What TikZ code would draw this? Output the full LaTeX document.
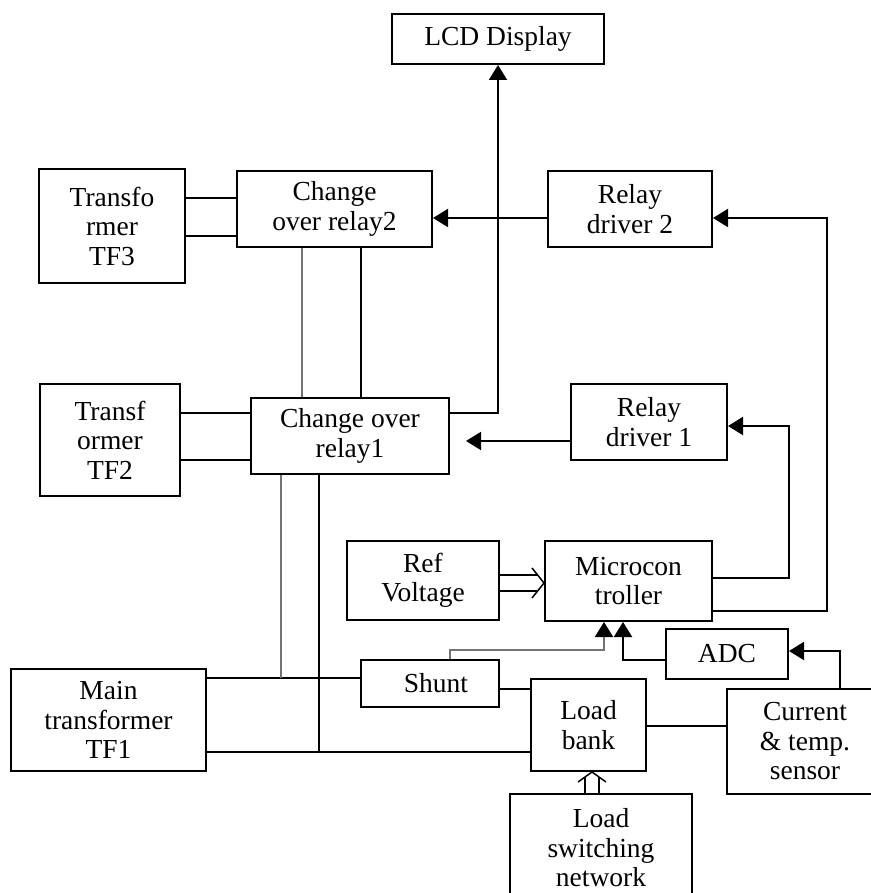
\documentclass[tikz,border=0pt]{standalone}
\usepackage{fontspec}
\setmainfont{Liberation Serif}
\usetikzlibrary{arrows.meta}

\begin{document}
\begin{tikzpicture}[x=1pt, y=-1pt, line width=2pt,
        blk/.style={draw, rectangle, align=center, inner sep=0pt, font=\fontsize{27.5}{29.5}\selectfont},
        arr/.style={-{Triangle[length=15pt, width=18pt, color=black]}},
        hol/.style={double, line width=1.5pt},
        gw/.style={draw=black!55}]
        \useasboundingbox (0,0) rectangle (870,893);
        % Blocks, top part
        \node[blk, minimum width=212pt, minimum height=50pt] (lcd) at (498,39) {LCD Display};
        \node[blk, minimum width=146pt, minimum height=114pt] (tf3) at (112,226) {Transfo\\rmer\\TF3};
        \node[blk, minimum width=195pt, minimum height=76pt] (cor2) at (334.5,209) {Change\\over relay2};
        \node[blk, minimum width=164pt, minimum height=76pt] (rd2) at (630,209) {Relay\\driver 2};
        \node[blk, minimum width=140pt, minimum height=112pt] (tf2) at (110,440) {Transf\\ormer\\TF2};
        \node[blk, minimum width=198pt, minimum height=76pt] (cor1) at (350,436) {Change over\\relay1};
        \node[blk, minimum width=156pt, minimum height=76pt] (rd1) at (649,422) {Relay\\driver 1};
        % Blocks, bottom part
        \node[blk, minimum width=152pt, minimum height=79pt] (refv) at (423,580.5) {Ref\\Voltage};
        \node[blk, minimum width=167pt, minimum height=80pt] (mcu) at (628.5,581) {Microcon\\troller};
        \node[blk, minimum width=122pt, minimum height=50pt] (adc) at (727,654) {ADC};
        \node[blk, minimum width=138pt, minimum height=47pt] (shunt) at (430,683.5) {\hspace*{12pt}Shunt};
        \node[blk, minimum width=115pt, minimum height=92pt] (lbank) at (588.5,725) {Load\\bank};
        \node[blk, minimum width=195pt, minimum height=102pt] (tf1) at (108.5,720) {Main\\transformer\\TF1};
        \node[blk, minimum width=156pt, minimum height=105pt] (sensor) at (805,741.5) {Current\\\& temp.\\sensor};
        \node[blk, minimum width=182pt, minimum height=108pt] (lsn) at (601,848) {Load\\switching\\network};
        % Transformer to relay wiring
        \draw ([yshift=11pt]cor2.west) -- ([yshift=11pt]cor2.west -| tf3.east);
        \draw ([yshift=-27pt]cor2.west) -- ([yshift=-27pt]cor2.west -| tf3.east);
        \draw ([yshift=23pt]cor1.west) -- ([yshift=23pt]cor1.west -| tf2.east);
        \draw ([yshift=-24pt]cor1.west) -- ([yshift=-24pt]cor1.west -| tf2.east);
        \draw[gw] ([xshift=-32.5pt]cor2.south) -- ([xshift=-32.5pt]cor2.south |- cor1.north);
        \draw ([xshift=26.5pt]cor2.south) -- ([xshift=26.5pt]cor2.south |- cor1.north);
        % Main transformer bus
        \coordinate (bt) at ([yshift=5.5pt]shunt.west);
        \coordinate (bb) at ([yshift=-32pt]tf1.east);
        \draw (bt) -- (bt -| tf1.east);
        \draw (bb) -- (bb -| lbank.west);
        \draw[gw] ([xshift=-69pt]cor1.south) -- ([xshift=-69pt]cor1.south |- bt);
        \draw ([xshift=-31pt]cor1.south) -- ([xshift=-31pt]cor1.south |- bb);
        \draw ([yshift=-5.5pt]shunt.east) -- ([yshift=-5.5pt]shunt.east -| lbank.west);
        \draw ([yshift=-1pt]lbank.east) -- ([yshift=-1pt]lbank.east -| sensor.west);
        % Control signals
        \draw[arr] ([yshift=23pt]cor1.east) -| (lcd.south);
        \draw[arr] ([yshift=-9pt]rd2.west) -- ([yshift=-9pt]cor2.east);
        \draw[arr, shorten >=16pt] ([yshift=-19pt]rd1.west) -- ([yshift=-19pt]rd1.west -| cor1.east);
        \draw[arr] ([yshift=3pt]mcu.east) -- ++(76,0) |- ([yshift=-4pt]rd1.east);
        \draw[arr] ([yshift=-30pt]mcu.east) -- ++(114,0) |- ([yshift=-9pt]rd2.east);
        \draw[arr] ([yshift=-6pt]adc.west) -| ([xshift=-5.5pt]mcu.south);
        \draw[arr, gw] ([xshift=20pt]shunt.north) -- ++(0,-9) -| ([xshift=-24.5pt]mcu.south);
        \draw[arr] ([xshift=35pt]sensor.north) |- ([yshift=3pt]adc.east);
        % Hollow arrows
        \coordinate (rvtip) at ([yshift=-2.5pt]refv.east -| mcu.west);
        \coordinate (lbtip) at ([xshift=3.5pt]lbank.south);
        \draw[hol, double distance=14.5pt, shorten >=7pt] ([yshift=-2.5pt]refv.east) -- (rvtip);
        \draw[line width=1.5pt] (rvtip) ++(-12,-15) -- (rvtip) -- ++(-12,15);
        \draw[hol, double distance=12.5pt, shorten >=5pt] (lbtip |- lsn.north) -- (lbtip);
        \draw[line width=1.5pt] (lbtip) ++(-14,10) -- (lbtip) -- ++(14,10);
    \end{tikzpicture}
\end{document}
